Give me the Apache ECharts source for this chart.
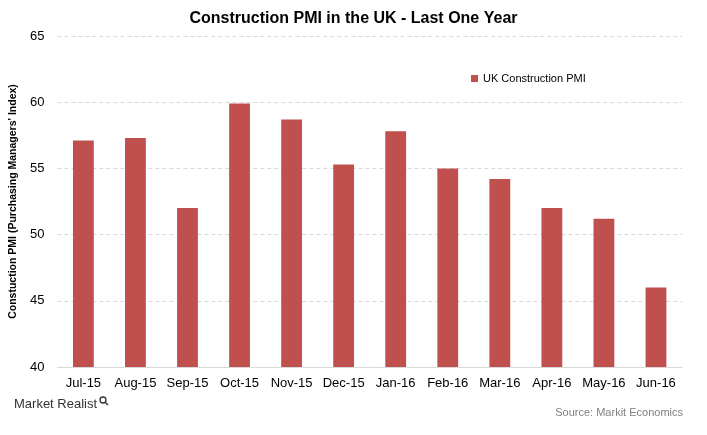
<!DOCTYPE html>
<html>
<head>
<meta charset="utf-8">
<style>
html,body{margin:0;padding:0;background:#fff;}
#chart{width:707px;height:435px;}
</style>
<script src="https://cdn.jsdelivr.net/npm/echarts@6/dist/echarts.min.js"></script>
</head>
<body>
<div id="chart"></div>
<script>
const categories = ['Jul-15','Aug-15','Sep-15','Oct-15','Nov-15','Dec-15','Jan-16','Feb-16','Mar-16','Apr-16','May-16','Jun-16'];
const pmiValues = [57.1, 57.3, 52.0, 59.9, 58.7, 55.3, 57.8, 55.0, 54.2, 52.0, 51.2, 46.0];
const seriesName = 'UK Construction PMI';
const yTicks = [40, 45, 50, 55, 60, 65];

const chart = echarts.init(document.getElementById('chart'), null, {renderer: 'canvas'});
const font = 'Liberation Sans, Arial, sans-serif';
chart.setOption({
  animation: false,
  title: {
    text: 'Construction PMI in the UK - Last One Year',
    left: 'center',
    top: 6,
    textStyle: {fontFamily: font, fontSize: 16, fontWeight: 'bold', color: '#000'}
  },
  legend: {
    data: [seriesName],
    left: 466,
    top: 68,
    icon: 'rect',
    itemWidth: 7,
    itemHeight: 7,
    itemGap: 4,
    textStyle: {fontFamily: font, fontSize: 11, color: '#000'}
  },
  grid: {left: 57, right: 25, top: 36, bottom: 68, containLabel: false},
  xAxis: {
    type: 'category',
    data: categories,
    axisLine: {lineStyle: {color: '#d9d9d9', width: 1}},
    axisTick: {show: false},
    axisLabel: {fontFamily: font, fontSize: 13, color: '#000', margin: 10, interval: 0}
  },
  yAxis: {
    type: 'value',
    min: yTicks[0],
    max: yTicks[yTicks.length - 1],
    interval: 5,
    name: "Constuction PMI (Purchasing Managers' Index)",
    nameLocation: 'middle',
    nameGap: 35,
    nameTextStyle: {fontFamily: font, fontSize: 10.5, fontWeight: 'bold', color: '#000'},
    axisLine: {show: false},
    axisTick: {show: false},
    axisLabel: {fontFamily: font, fontSize: 13, color: '#000', margin: 13},
    splitLine: {lineStyle: {color: '#d9d9d9', type: [4, 3], width: 1}}
  },
  series: [{
    name: seriesName,
    type: 'bar',
    data: pmiValues,
    barWidth: '40%',
    itemStyle: {color: '#C0504D'}
  }],
  graphic: [
    {
      type: 'text', left: 14, top: 398,
      style: {text: 'Market Realist', fontFamily: font, fontSize: 13, fill: '#333', letterSpacing: -0.3}
    },
    {
      type: 'circle', shape: {cx: 103, cy: 400, r: 3},
      style: {fill: 'none', stroke: '#333', lineWidth: 1.3}
    },
    {
      type: 'line', shape: {x1: 105, y1: 402, x2: 108, y2: 405},
      style: {stroke: '#333', lineWidth: 1.5}
    },
    {
      type: 'text', right: 24, top: 407,
      style: {text: 'Source: Markit Economics', fontFamily: font, fontSize: 11, fill: '#808080'}
    }
  ]
});
</script>
</body>
</html>
